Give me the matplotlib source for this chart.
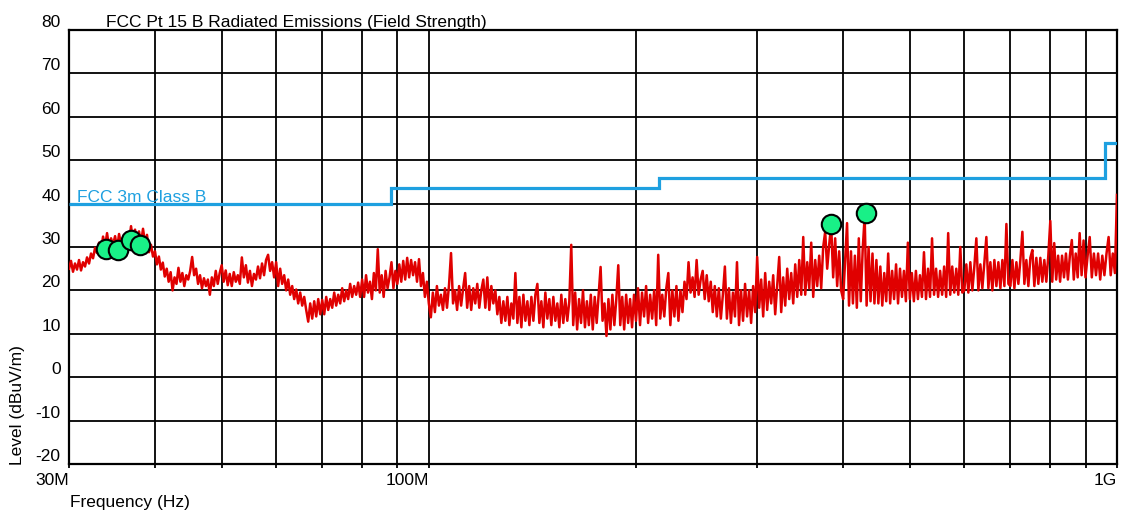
import numpy as np
import matplotlib
matplotlib.use('Agg')
import matplotlib.pyplot as plt
from matplotlib.ticker import FixedLocator, NullFormatter, FixedFormatter
from matplotlib.transforms import ScaledTranslation

plt.rcParams['font.family'] = ['Liberation Sans', 'DejaVu Sans']
plt.rcParams['font.size'] = 12.5
plt.rcParams['axes.unicode_minus'] = False

# measured trace, in chunks between these frequencies (MHz)
edges_mhz = [30, 35, 40, 45, 50, 60, 70, 80, 90, 100, 120, 140, 160, 180, 200,
             250, 300, 350, 400, 450, 500, 600, 700, 800, 900, 1000]
level_db = [
    [25.0, 26.8, 24.3, 26.2, 24.8, 27.0, 24.6, 26.5, 25.5, 27.6, 26.2, 28.5, 27.4, 29.8, 28.6, 31.0,
     29.2, 32.4, 30.0, 33.2, 29.8, 32.0, 30.5],
    [32.5, 29.6, 33.0, 30.4, 32.2, 29.8, 33.4, 31.0, 34.8, 31.2, 34.0, 31.5, 33.6, 30.8, 34.2, 31.0,
     32.8, 28.8, 30.5, 27.8],
    [29.0, 26.0, 27.8, 24.8, 26.4, 23.2, 25.0, 22.0, 24.2, 20.0, 23.0, 21.5, 25.2, 22.0, 24.0, 21.0,
     23.5, 22.5],
    [24.5, 27.7, 23.5, 25.0, 21.5, 23.5, 20.5, 22.8, 21.0, 22.5, 19.0, 23.0, 21.0, 24.5, 21.5, 24.0],
    [25.8, 22.0, 24.6, 21.2, 23.8, 21.0, 24.2, 22.0, 23.5, 21.5, 27.6, 23.0, 25.8, 21.8, 24.5, 21.0,
     23.8, 22.5, 25.5, 22.8, 26.2, 23.5, 27.0, 28.2, 24.5, 26.5, 23.0],
    [26.5, 21.0, 25.0, 21.5, 23.5, 20.0, 22.5, 19.0, 21.0, 18.0, 20.2, 17.0, 19.5, 16.5, 18.5, 15.5,
     12.8, 17.0, 13.5, 17.5, 14.0, 18.0, 14.5],
    [17.8, 14.5, 18.5, 15.5, 18.0, 16.0, 19.5, 16.5, 19.0, 17.0, 20.5, 17.5, 20.0, 18.0, 21.5, 18.5,
     21.0, 19.0, 21.8, 18.5],
    [22.5, 18.5, 23.5, 19.5, 22.0, 18.0, 24.0, 20.0, 29.5, 19.5, 23.5, 18.5, 24.5, 20.5, 23.0, 26.5,
     20.5, 24.5],
    [21.5, 26.0, 22.0, 26.8, 22.5, 27.5, 23.0, 27.0, 23.5, 26.5, 22.0, 27.2, 21.0, 24.0, 18.5, 22.0],
    [17.0, 13.8, 19.5, 15.0, 21.0, 16.5, 19.0, 15.5, 20.5, 16.0, 21.2, 28.6, 17.0, 20.0, 15.5, 21.0,
     16.5, 20.5, 24.0, 16.0, 21.0, 15.5, 20.5, 17.0, 21.5, 16.0, 20.0],
    [22.5, 16.0, 23.0, 15.5, 21.0, 17.0, 20.0, 14.5, 18.5, 12.5, 17.5, 13.0, 18.5, 12.0, 17.0, 13.5,
     24.0, 12.5, 18.5, 11.5, 19.0, 13.0, 17.5],
    [12.0, 18.5, 13.0, 19.0, 21.5, 12.5, 17.5, 11.5, 19.5, 13.5, 18.0, 12.0, 18.5, 13.0, 17.0, 11.5,
     19.0, 12.5, 18.0, 13.0],
    [17.5, 30.5, 12.0, 19.5, 11.0, 18.0, 12.5, 20.0, 11.5, 17.5, 12.0, 19.0, 11.0, 18.5, 12.5, 19.0,
     25.4, 13.0],
    [17.0, 9.5, 18.0, 11.0, 19.0, 12.0, 18.0, 25.8, 12.0, 18.5, 11.0, 19.0, 12.5, 18.0, 11.5, 19.0],
    [13.0, 20.5, 12.0, 19.5, 14.0, 21.0, 12.5, 19.0, 13.5, 20.0, 12.0, 28.2, 13.5, 19.0, 14.0, 20.5,
     24.0, 12.0, 20.0, 14.0, 21.0, 13.0, 20.0, 15.0, 22.0, 18.0, 26.5, 19.5, 23.0, 18.5, 27.0, 19.0,
     22.5],
    [24.5, 18.0, 23.5, 17.5, 22.0, 15.0, 21.0, 14.0, 20.5, 13.5, 19.0, 25.5, 13.5, 20.5, 12.5, 19.5,
     14.0, 26.5, 12.0, 20.0, 13.0, 21.5, 14.0, 20.0, 12.5, 21.0, 15.0],
    [27.7, 16.0, 22.5, 14.0, 24.0, 15.5, 22.0, 17.0, 23.5, 14.5, 21.0, 27.7, 15.0, 23.0, 16.5, 25.0,
     18.0, 24.0, 17.0, 26.0, 18.5, 27.0, 19.0],
    [32.3, 19.0, 26.5, 20.5, 31.0, 18.5, 27.0, 21.0, 28.0, 20.5, 30.0, 33.5, 25.0, 30.5, 35.0, 23.0,
     32.0, 21.0, 29.0, 20.0],
    [18.0, 27.0, 35.5, 16.5, 29.0, 17.0, 28.0, 16.0, 32.0, 17.5, 29.5, 37.0, 16.5, 30.0, 17.5, 28.5,
     17.0, 27.0],
    [17.0, 25.5, 16.5, 24.0, 17.5, 28.5, 17.0, 24.5, 18.0, 26.0, 17.0, 25.0, 18.5, 24.5, 17.5, 31.0],
    [18.0, 24.0, 17.5, 24.5, 18.0, 23.5, 18.5, 28.8, 18.0, 25.0, 18.5, 32.0, 19.0, 25.0, 18.5, 24.5,
     19.0, 25.5, 18.5, 33.2, 19.0, 25.5, 19.5, 25.0, 19.0, 30.0, 19.5],
    [20.0, 26.0, 19.5, 26.5, 20.0, 25.5, 32.0, 20.0, 26.0, 20.5, 26.5, 32.3, 20.5, 26.5, 20.0, 27.0,
     21.0, 26.5, 20.5, 27.0, 21.0, 35.3, 21.5],
    [21.0, 27.0, 20.5, 26.5, 21.5, 27.0, 33.5, 21.5, 27.0, 21.0, 27.5, 29.3, 21.0, 27.5, 21.5, 27.5,
     22.0, 27.0, 22.0, 28.0],
    [36.0, 22.0, 30.9, 22.5, 28.0, 22.0, 28.0, 23.0, 28.5, 22.5, 28.0, 31.6, 22.5, 28.5, 23.0, 33.2,
     23.5, 31.5],
    [23.0, 28.0, 32.3, 23.0, 28.5, 23.5, 28.5, 22.5, 28.0, 23.5, 28.5, 32.3, 23.5, 28.5, 24.0, 42.0],
]

# FCC Part 15 class B, 3 m limit
limit_edges_mhz = [30, 88, 216, 960, 1000]
limit_db = [40, 43.5, 46, 54]

# peak markers
peak_mhz = [34.0, 35.3, 36.9, 38.1, 384, 432]
peak_db = [29.5, 29.2, 31.5, 30.4, 35.3, 37.8]

freq, level = [], []
last = len(level_db) - 1
for i, vals in enumerate(level_db):
    f = np.geomspace(edges_mhz[i], edges_mhz[i + 1], len(vals), endpoint=(i == last))
    freq.extend(f)
    level.extend(vals)
freq = np.array(freq) * 1e6
level = np.array(level)

fig = plt.figure(figsize=(11.3, 5.14), dpi=100)
ax = fig.add_axes([69 / 1130, 50 / 514, 1048 / 1130, 434 / 514])

ax.set_xscale('log')
ax.set_xlim(30e6, 1e9)
ax.set_ylim(-20, 80)

major = [30e6, 100e6, 1e9]
minor = [40e6, 50e6, 60e6, 70e6, 80e6, 90e6] + [m * 1e6 for m in range(200, 1000, 100)]
ax.xaxis.set_major_locator(FixedLocator(major))
ax.xaxis.set_major_formatter(FixedFormatter(['30M', '100M', '1G']))
ax.xaxis.set_minor_locator(FixedLocator(minor))
ax.xaxis.set_minor_formatter(NullFormatter())
ax.set_yticks(np.arange(-20, 81, 10))

ax.grid(True, which='both', axis='x', color='black', lw=1.3)
ax.grid(True, which='major', axis='y', color='black', lw=1.3)
ax.set_axisbelow(True)
ax.tick_params(axis='x', which='both', direction='out', length=3, width=1.3, pad=3.3)
ax.tick_params(axis='y', length=0, pad=6)
for lab in ax.get_xticklabels():
    lab.set_horizontalalignment('right')
for lab in ax.get_yticklabels():
    lab.set_verticalalignment('baseline')
    lab.set_transform(lab.get_transform() + ScaledTranslation(0, 3 / 100, fig.dpi_scale_trans))
for s in ax.spines.values():
    s.set_linewidth(1.6)

ax.plot(freq, level, color='#e00000', lw=1.8, zorder=3)
ax.stairs(limit_db, np.array(limit_edges_mhz) * 1e6, baseline=None, color='#1ea0e0', lw=2.3, zorder=4)
ax.plot(np.array(peak_mhz) * 1e6, peak_db, 'o', ms=14, mfc='#19f087', mec='black', mew=1.5, zorder=5)

ax.text(77 / 1130, (514 - 202) / 514, 'FCC 3m Class B', transform=fig.transFigure,
        color='#1ea0e0', va='baseline', ha='left')

fig.text(106 / 1130, (514 - 26.5) / 514, 'FCC Pt 15 B Radiated Emissions (Field Strength)',
         va='baseline', ha='left')
fig.text(70 / 1130, 7 / 514, 'Frequency (Hz)', va='baseline', ha='left')
fig.text(18 / 1130, 49 / 514, 'Level (dBuV/m)', rotation=90, va='bottom', ha='center')

fig.savefig('out.png', dpi=100)
